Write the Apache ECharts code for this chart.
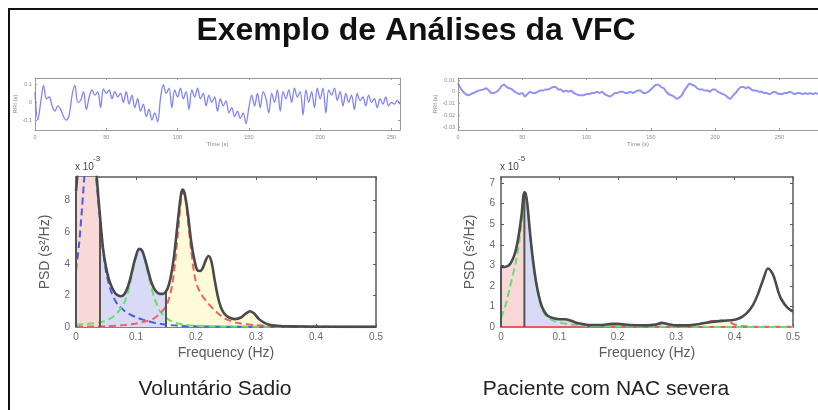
<!DOCTYPE html>
<html>
<head>
<meta charset="utf-8">
<script src="https://cdn.jsdelivr.net/npm/echarts@6/dist/echarts.min.js"></script>
<style>
html,body{margin:0;padding:0;background:#fff;}
#c{width:818px;height:410px;}
</style>
</head>
<body>
<div id="c"></div>
<script>
// ---------- Data ----------
// RR interval tachograms (deviation from mean, seconds), sampled every 2 s
const rrStep = 2;
const rrHealthy = [
  0.06,-0.10,0.00,0.095,0.02,0.03,-0.02,-0.05,-0.02,-0.04,-0.08,-0.10,-0.07,0.04,0.095,0.00,
  0.01,0.06,-0.04,0.03,0.07,0.04,0.06,-0.03,0.075,0.05,0.07,0.02,0.06,0.03,0.05,0.00,
  0.06,-0.01,0.04,-0.03,0.02,-0.05,-0.01,-0.08,-0.04,-0.10,-0.06,-0.11,0.02,0.10,0.05,0.08,
  -0.03,0.07,0.03,0.08,0.02,0.06,-0.04,0.07,0.03,0.08,0.02,0.05,-0.02,0.04,0.00,0.03,
  -0.05,0.02,-0.02,0.01,-0.06,-0.03,-0.08,-0.05,-0.09,-0.06,-0.12,-0.03,0.04,-0.02,0.05,-0.03,
  0.06,0.02,-0.06,0.05,0.00,0.07,-0.05,0.06,0.02,0.07,0.00,0.08,0.03,0.06,-0.07,0.07,
  0.00,0.06,-0.03,0.08,0.02,0.08,-0.06,0.07,0.04,0.08,0.01,0.06,-0.02,0.05,0.00,0.04,
  -0.04,0.05,0.01,0.03,-0.02,0.04,0.00,0.02,-0.03,0.02,-0.01,0.03,-0.02,0.00,-0.01,0.01,-0.01
];
const rrPatient = [
  0.007,0.003,0.000,-0.002,-0.003,-0.002,-0.001,0.000,0.001,0.0015,0.002,0.003,0.001,-0.001,-0.001,0.000,
  0.002,0.005,0.006,0.004,0.003,0.002,0.000,-0.001,-0.002,-0.001,-0.004,-0.002,0.000,-0.001,-0.001,0.000,
  0.001,0.001,0.002,0.002,0.003,0.004,0.004,0.002,0.002,0.000,0.001,0.000,0.001,-0.001,-0.002,-0.003,
  -0.003,-0.003,-0.002,-0.002,-0.001,-0.001,0.000,-0.001,0.000,-0.002,-0.003,-0.004,-0.003,-0.001,-0.001,0.000,
  0.000,-0.001,-0.001,0.000,-0.001,0.000,0.001,0.001,-0.001,-0.001,0.000,0.002,0.004,0.006,0.006,0.004,
  0.003,0.000,-0.002,-0.003,-0.004,-0.006,-0.005,-0.003,0.001,0.004,0.007,0.006,0.005,0.003,0.002,0.002,
  0.001,0.001,0.000,0.002,0.002,0.000,-0.001,-0.002,-0.003,-0.005,-0.006,-0.003,-0.001,0.002,0.004,0.004,
  0.003,0.004,0.002,0.001,0.001,0.000,0.000,-0.001,-0.001,-0.002,-0.001,0.000,-0.001,-0.002,-0.002,-0.001,
  -0.001,0.000,-0.001,-0.002,-0.001,-0.001,-0.002,-0.001,-0.002,-0.001,-0.002,-0.001,-0.002
];
const rrHealthyTicksX = [0,50,100,150,200,250];
const rrHealthyTicksY = [-0.1,0,0.1];
const rrPatientTicksX = [0,50,100,150,200,250,300];
const rrPatientTicksY = [-0.03,-0.02,-0.01,0,0.01];

// Power spectral densities [frequency (Hz), PSD]
// Healthy volunteer: units of 1e-3 s^2/Hz
const psdHealthyTotal = [
  [0,8.6],[0.005,11],[0.01,13.5],[0.015,15],[0.02,15.5],[0.025,14.5],[0.03,12],[0.035,9.3],
  [0.04,7.0],[0.045,5.0],[0.05,3.8],[0.055,3.0],[0.06,2.5],[0.065,2.15],[0.07,2.0],[0.075,1.95],
  [0.08,2.05],[0.085,2.4],[0.09,3.0],[0.095,3.8],[0.1,4.5],[0.105,4.95],[0.11,4.85],[0.115,4.3],
  [0.12,3.6],[0.125,2.9],[0.13,2.45],[0.135,2.2],[0.14,2.1],[0.145,2.1],[0.15,2.25],[0.155,2.7],
  [0.16,3.6],[0.165,5.0],[0.17,6.8],[0.175,8.4],[0.178,8.7],[0.182,8.3],[0.187,7.0],[0.192,5.4],
  [0.197,4.3],[0.202,3.6],[0.207,3.55],[0.212,3.8],[0.217,4.3],[0.221,4.5],[0.226,4.1],[0.231,3.0],
  [0.236,2.0],[0.241,1.3],[0.247,0.85],[0.255,0.6],[0.265,0.5],[0.275,0.6],[0.283,0.85],[0.29,1.0],
  [0.297,0.85],[0.305,0.5],[0.315,0.25],[0.325,0.12],[0.34,0.06],[0.36,0.04],[0.4,0.02],[0.45,0.01],[0.5,0.01]
];
const psdHealthyVlf = [
  [0,3.6],[0.005,5.2],[0.01,7.5],[0.015,10],[0.02,11.8],[0.025,12],[0.03,10.8],[0.035,8.9],
  [0.04,6.8],[0.045,4.9],[0.05,3.5],[0.055,2.7],[0.06,2.1],[0.065,1.7],[0.07,1.4],[0.08,1.05],
  [0.09,0.8],[0.1,0.62],[0.11,0.48],[0.12,0.36],[0.13,0.27],[0.14,0.2],[0.15,0.15],[0.17,0.08],
  [0.2,0.04],[0.25,0.02],[0.3,0.01],[0.5,0.0]
];
const psdHealthyLf = [
  [0,0.15],[0.02,0.2],[0.04,0.3],[0.05,0.4],[0.06,0.6],[0.07,0.95],[0.08,1.5],[0.085,2.0],
  [0.09,2.7],[0.095,3.6],[0.1,4.4],[0.105,4.9],[0.11,4.8],[0.115,4.2],[0.12,3.4],[0.125,2.6],
  [0.13,1.9],[0.135,1.4],[0.14,1.0],[0.15,0.6],[0.16,0.35],[0.17,0.22],[0.18,0.15],[0.2,0.08],
  [0.25,0.03],[0.5,0.01]
];
const psdHealthyHf = [
  [0,0.02],[0.05,0.05],[0.08,0.12],[0.1,0.22],[0.12,0.4],[0.13,0.55],[0.14,0.85],[0.15,1.3],
  [0.155,1.8],[0.16,2.6],[0.165,4.0],[0.17,6.0],[0.175,8.0],[0.178,8.6],[0.182,8.2],[0.187,6.6],
  [0.192,4.8],[0.197,3.4],[0.202,2.6],[0.21,2.0],[0.22,1.5],[0.23,1.1],[0.24,0.75],[0.25,0.5],
  [0.27,0.25],[0.3,0.12],[0.35,0.05],[0.5,0.01]
];
// Patient with severe CAN: units of 1e-5 s^2/Hz
const psdPatientTotal = [
  [0,2.95],[0.005,2.92],[0.01,2.95],[0.015,3.05],[0.02,3.3],[0.025,3.7],[0.03,4.4],[0.035,5.4],
  [0.04,6.55],[0.042,6.5],[0.045,6.0],[0.05,4.5],[0.055,3.2],[0.06,2.2],[0.065,1.5],[0.07,1.0],
  [0.075,0.72],[0.08,0.55],[0.09,0.42],[0.1,0.38],[0.11,0.38],[0.12,0.3],[0.13,0.2],[0.14,0.14],
  [0.15,0.1],[0.17,0.1],[0.19,0.15],[0.2,0.15],[0.22,0.1],[0.25,0.08],[0.265,0.12],[0.275,0.2],
  [0.285,0.15],[0.3,0.08],[0.32,0.08],[0.34,0.15],[0.36,0.25],[0.38,0.3],[0.4,0.35],[0.41,0.45],
  [0.42,0.65],[0.43,1.0],[0.44,1.6],[0.45,2.4],[0.457,2.85],[0.465,2.6],[0.47,2.2],[0.475,1.7],
  [0.48,1.35],[0.49,0.95],[0.5,0.75]
];
const psdPatientLf = [
  [0,0.45],[0.005,0.8],[0.01,1.3],[0.015,1.9],[0.02,2.5],[0.025,3.1],[0.03,3.9],[0.035,5.0],
  [0.04,6.3],[0.042,6.4],[0.045,5.9],[0.05,4.4],[0.055,3.1],[0.06,2.1],[0.065,1.35],[0.07,0.9],
  [0.075,0.62],[0.08,0.45],[0.09,0.3],[0.1,0.22],[0.12,0.12],[0.15,0.06],[0.2,0.03],[0.3,0.01],[0.5,0.0]
];
const psdPatientHf = [
  [0.3,0.02],[0.32,0.06],[0.34,0.15],[0.36,0.28],[0.375,0.32],[0.39,0.25],[0.4,0.12],[0.41,0.05],
  [0.43,0.02],[0.5,0.01]
];
const psdPatientMid = [
  [0.15,0.02],[0.18,0.08],[0.2,0.12],[0.22,0.08],[0.25,0.05],[0.27,0.12],[0.28,0.15],[0.29,0.1],[0.31,0.03]
];
const psdPatientBaseline = [[0,0],[0.5,0]];

const bandEdges = [0, 0.04, 0.15, 0.4];
const freqTicks = [0,0.1,0.2,0.3,0.4,0.5];
const psdHealthyTicksY = [0,2,4,6,8];
const psdPatientTicksY = [0,1,2,3,4,5,6,7];

// ---------- Helpers ----------
const FONT = 'Liberation Sans, Arial, Helvetica, sans-serif';

function bandSlice(curve, lo, hi) {
  return curve.filter(p => p[0] >= lo - 1e-9 && p[0] <= hi + 1e-9);
}
function valueAt(curve, f) {
  const p = curve.find(q => Math.abs(q[0] - f) < 1e-9);
  return p ? p[1] : 0;
}
function timeSeries(vals) {
  return vals.map((v, i) => [i * rrStep, v]);
}

const xAxes = [], yAxes = [];
function boxAxes(gi, xr, yr, xt, yt, st) {
  const tick = (vals) => ({show: true, inside: true, length: st.tickLen, customValues: vals,
    lineStyle: {color: st.frame, width: 1}});
  const line = {show: true, onZero: false, lineStyle: {color: st.frame, width: st.frameW}};
  const lbl = (vals, m) => ({show: true, customValues: vals, margin: m, fontSize: st.labelSize,
    color: st.labelColor, fontFamily: FONT});
  xAxes.push({gridIndex: gi, type: 'value', min: xr[0], max: xr[1], position: 'bottom',
    axisLine: line, axisTick: tick(xt), axisLabel: lbl(xt, st.xMargin), splitLine: {show: false},
    name: st.xName, nameLocation: 'middle', nameGap: st.xNameGap,
    nameTextStyle: {fontSize: st.nameSize, color: st.nameColor, fontFamily: FONT}});
  xAxes.push({gridIndex: gi, type: 'value', min: xr[0], max: xr[1], position: 'top',
    axisLine: line, axisTick: tick(xt), axisLabel: {show: false}, splitLine: {show: false}});
  yAxes.push({gridIndex: gi, type: 'value', min: yr[0], max: yr[1], position: 'left',
    axisLine: line, axisTick: tick(yt), axisLabel: lbl(yt, st.yMargin), splitLine: {show: false},
    name: st.yName, nameLocation: 'middle', nameGap: st.yNameGap, nameRotate: 90,
    nameTextStyle: {fontSize: st.nameSize, color: st.nameColor, fontFamily: FONT}});
  yAxes.push({gridIndex: gi, type: 'value', min: yr[0], max: yr[1], position: 'right',
    show: !st.noRight,
    axisLine: line, axisTick: tick(yt), axisLabel: {show: false}, splitLine: {show: false}});
}

const rrStyle = {frame: '#9a9a9a', frameW: 1, tickLen: 2, labelSize: 5.5, labelColor: '#8a8a8a',
  xMargin: 4, yMargin: 3, nameSize: 6, nameColor: '#8a8a8a', xName: 'Time (s)', xNameGap: 11,
  yName: 'RRI (s)', yNameGap: 17};
const psdStyle = {frame: '#5a5a5a', frameW: 1.5, tickLen: 3, labelSize: 10, labelColor: '#6a6a6a',
  xMargin: 5, yMargin: 6, nameSize: 14, nameColor: '#5a5a5a', xName: 'Frequency (Hz)', xNameGap: 19,
  yName: 'PSD (s²/Hz)', yNameGap: 24};

const grids = [
  {left: 35, top: 78, width: 365, height: 52},
  {left: 458, top: 78, width: 374, height: 52},
  {left: 76, top: 177, width: 300, height: 150},
  {left: 501, top: 177, width: 292, height: 150}
];
boxAxes(0, [0, 256], [-0.156, 0.137], rrHealthyTicksX, rrHealthyTicksY, rrStyle);
boxAxes(1, [0, 280], [-0.0325, 0.0117], rrPatientTicksX, rrPatientTicksY, {...rrStyle, noRight: true});
boxAxes(2, [0, 0.5], [0, 9.5], freqTicks, psdHealthyTicksY, psdStyle);
boxAxes(3, [0, 0.5], [0, 7.3], freqTicks, psdPatientTicksY, psdStyle);

// axis index of the bottom x / left y axis for a grid
const ax = gi => ({xAxisIndex: gi * 2, yAxisIndex: gi * 2});

const bandColors = ['#f9d8d8', '#d9dbf6', '#fdfbd8'];
const totalColor = '#4a4a4a';
const dash = [7, 4];

function psdSeries(gi, total, comps) {
  const out = [];
  // shaded bands under the total spectrum
  for (let b = 0; b < 3; b++) {
    out.push({type: 'line', ...ax(gi), data: bandSlice(total, bandEdges[b], bandEdges[b + 1]),
      smooth: 0.3, symbol: 'none', lineStyle: {width: 0}, z: 1,
      areaStyle: {color: bandColors[b], opacity: 1}});
  }
  // spectral components (dashed)
  comps.forEach(c => out.push({type: 'line', ...ax(gi), data: c.data, smooth: 0.3, symbol: 'none', z: 3,
    lineStyle: {color: c.color, width: c.width || 2, type: c.type || dash}}));
  // band boundary lines
  [0, 0.04, 0.15].forEach(f => out.push({type: 'line', ...ax(gi), symbol: 'none', z: 4,
    data: [[f, 0], [f, valueAt(total, f)]], lineStyle: {color: '#555', width: 2}}));
  // total spectrum
  out.push({type: 'line', ...ax(gi), data: total, smooth: 0.3, symbol: 'none', z: 5,
    lineStyle: {color: totalColor, width: 2.6}});
  return out;
}

const series = [
  {type: 'line', ...ax(0), data: timeSeries(rrHealthy), smooth: 0.35, symbol: 'none',
    lineStyle: {color: '#6b6df0', width: 1.3, opacity: 0.85}},
  {type: 'line', ...ax(1), data: timeSeries(rrPatient), smooth: 0.2, symbol: 'none',
    lineStyle: {color: '#7478f2', width: 2, opacity: 0.8}},
  ...psdSeries(2, psdHealthyTotal, [
    {data: psdHealthyVlf, color: '#4b5de6'},
    {data: psdHealthyLf, color: '#6ade6a'},
    {data: psdHealthyHf, color: '#f06262'}
  ]),
  ...psdSeries(3, psdPatientTotal, [
    {data: psdPatientBaseline, color: '#f05a5a', type: 'solid', width: 2},
    {data: psdPatientMid, color: '#b28ad8'},
    {data: psdPatientHf, color: '#f06262'},
    {data: psdPatientLf, color: '#6ade6a'}
  ])
];

const graphic = [
  {type: 'line', shape: {x1: 8, y1: 9, x2: 818, y2: 9}, style: {stroke: '#111', lineWidth: 2}},
  {type: 'line', shape: {x1: 9, y1: 8, x2: 9, y2: 410}, style: {stroke: '#111', lineWidth: 2}},
  {type: 'text', x: 416, y: 31, style: {text: 'Exemplo de Análises da VFC', fill: '#111',
    font: 'bold 32px ' + FONT, align: 'center', verticalAlign: 'middle'}},
  {type: 'text', x: 75, y: 167, style: {text: 'x 10', fill: '#444', font: '10px ' + FONT,
    align: 'left', verticalAlign: 'middle'}},
  {type: 'text', x: 93, y: 159, style: {text: '-3', fill: '#444', font: '8px ' + FONT,
    align: 'left', verticalAlign: 'middle'}},
  {type: 'text', x: 500, y: 167, style: {text: 'x 10', fill: '#444', font: '10px ' + FONT,
    align: 'left', verticalAlign: 'middle'}},
  {type: 'text', x: 518, y: 159, style: {text: '-5', fill: '#444', font: '8px ' + FONT,
    align: 'left', verticalAlign: 'middle'}},
  {type: 'text', x: 215, y: 389, style: {text: 'Voluntário Sadio', fill: '#222',
    font: '21px ' + FONT, align: 'center', verticalAlign: 'middle'}},
  {type: 'text', x: 606, y: 389, style: {text: 'Paciente com NAC severa', fill: '#222',
    font: '21px ' + FONT, align: 'center', verticalAlign: 'middle'}}
];

const chart = echarts.init(document.getElementById('c'), null, {width: 818, height: 410});
chart.setOption({
  animation: false,
  backgroundColor: '#fff',
  grid: grids,
  xAxis: xAxes,
  yAxis: yAxes,
  series: series,
  graphic: graphic
});
</script>
</body>
</html>
